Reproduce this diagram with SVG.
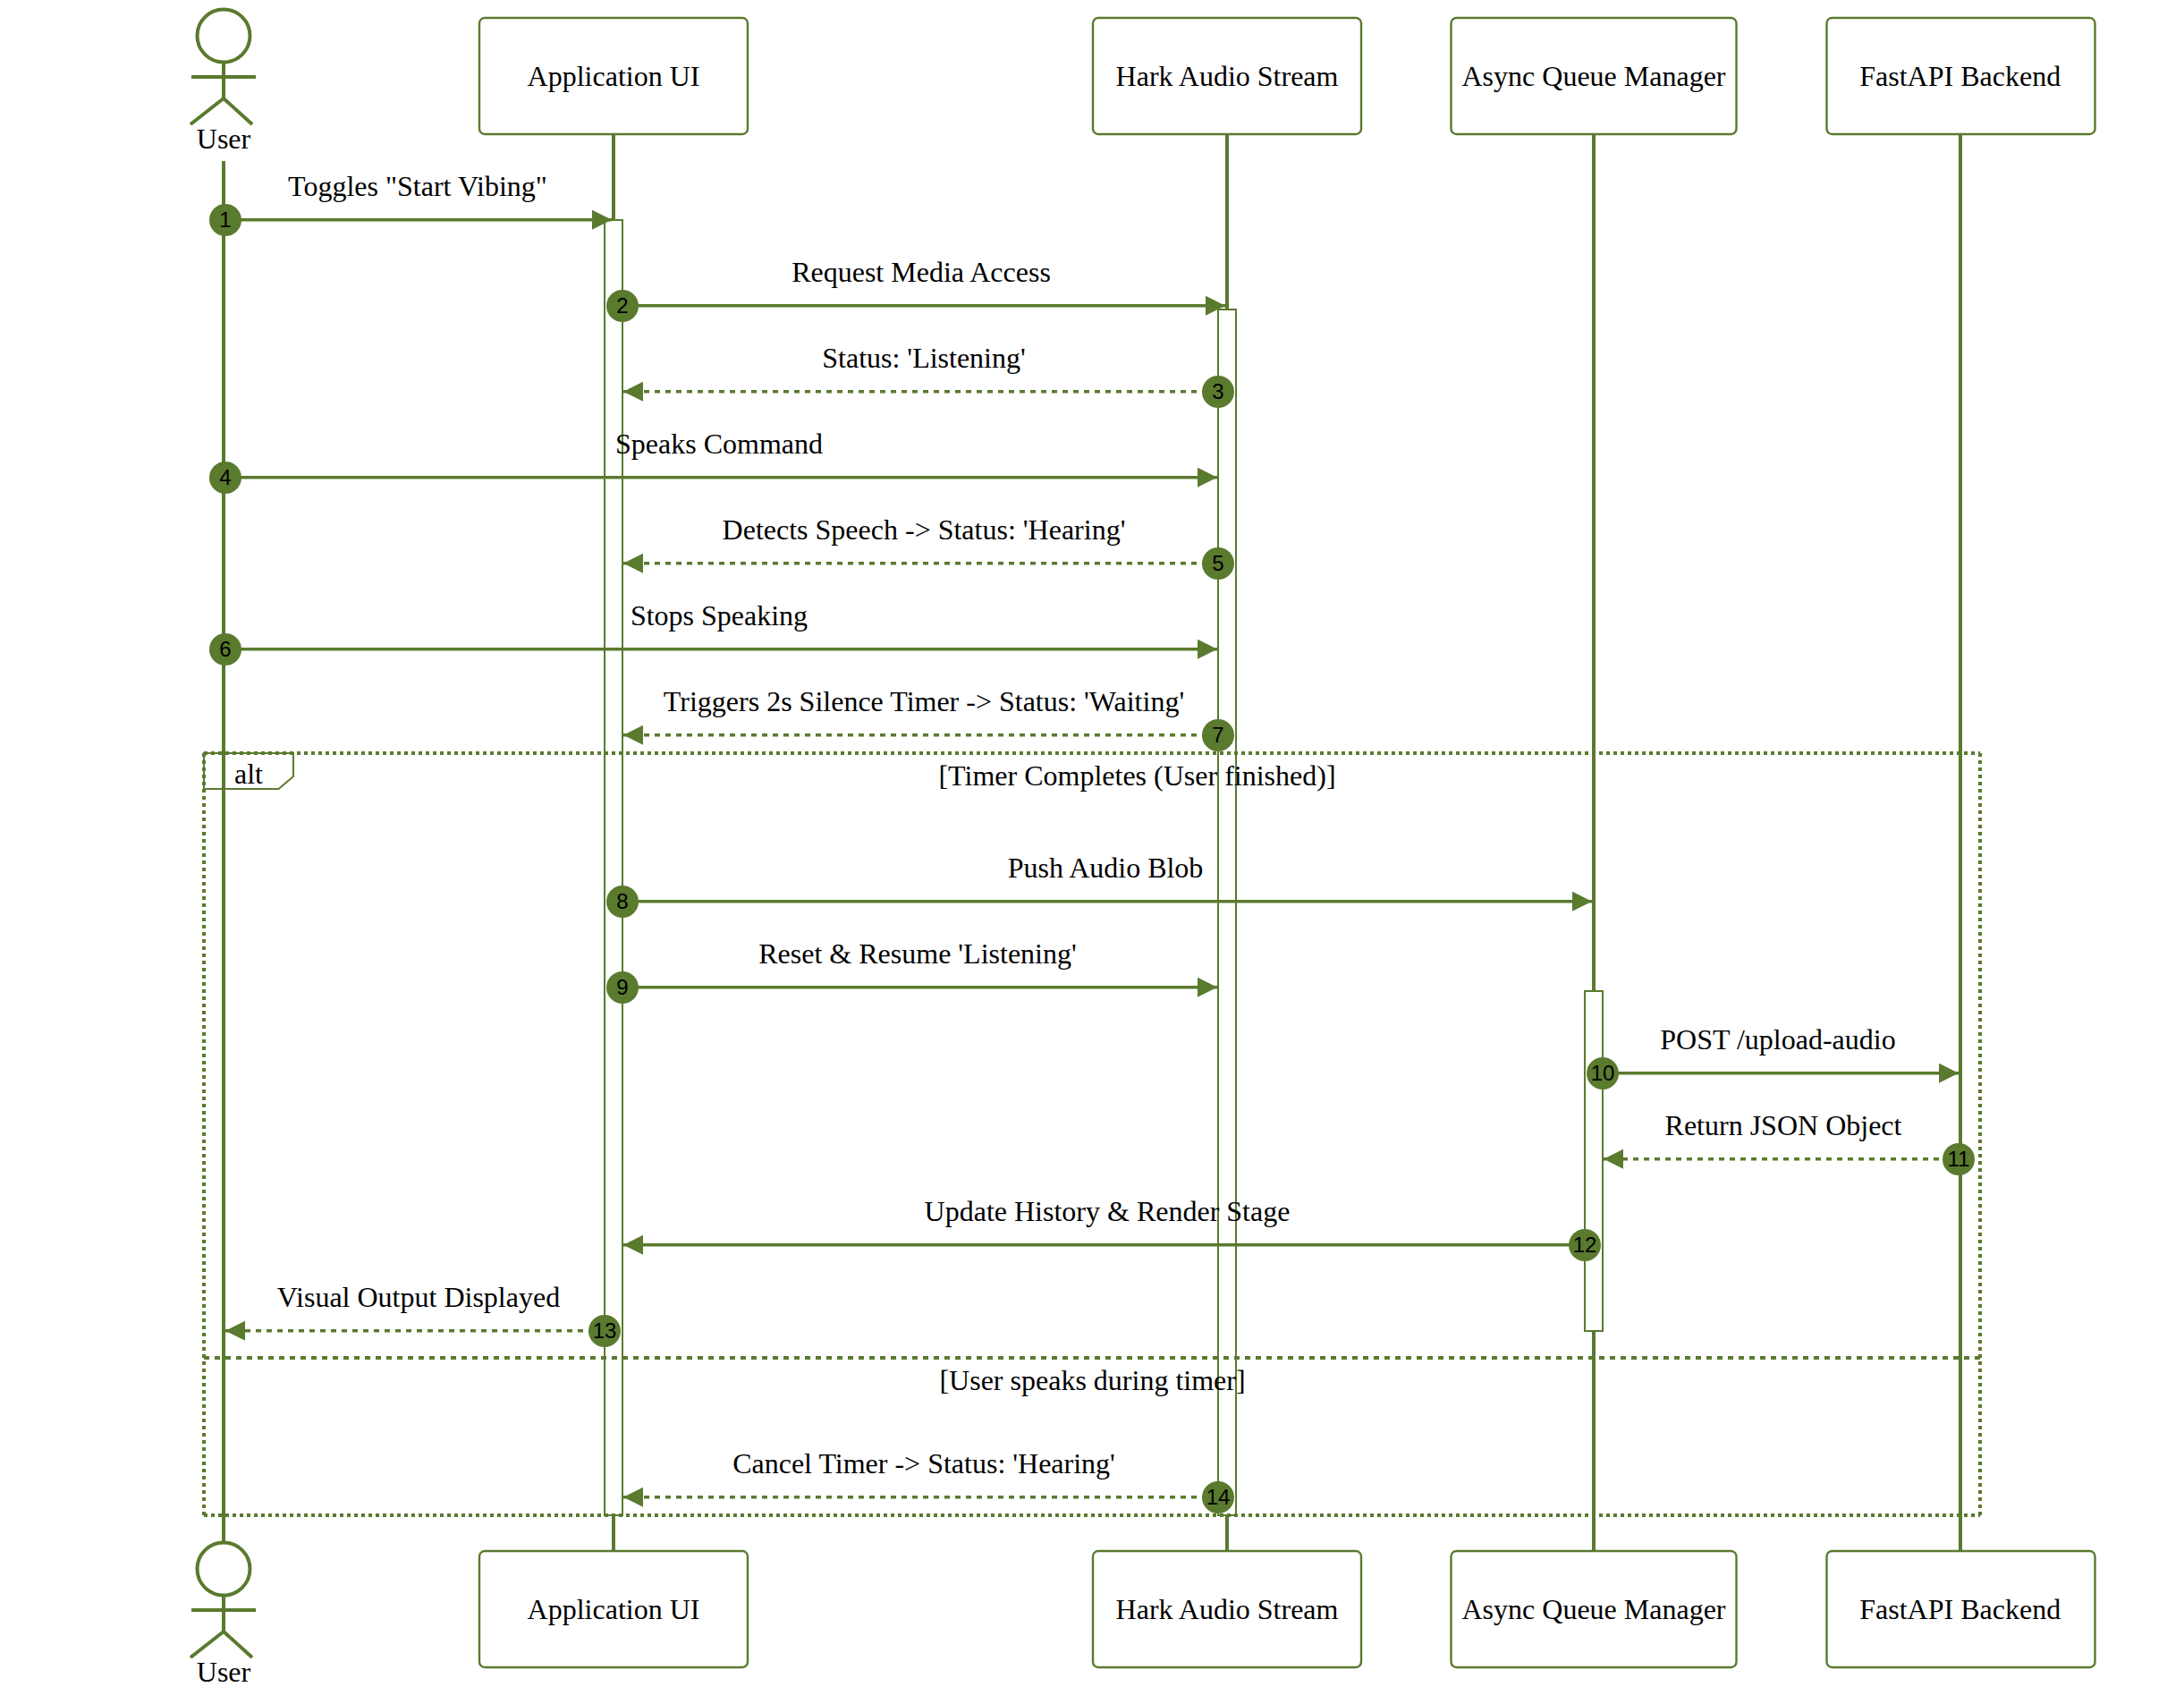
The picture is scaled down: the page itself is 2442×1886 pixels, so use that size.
<svg xmlns="http://www.w3.org/2000/svg" width="2442" height="1886" viewBox="0 0 2442 1886">
<style>
text{font-family:"Liberation Serif","Times New Roman",serif;font-size:32px;fill:#000;text-anchor:middle}
.box{fill:#fff;stroke:#5a7a2e;stroke-width:2.4}
.stick{fill:none;stroke:#5a7a2e;stroke-width:4}
.life{stroke:#5a7a2e;stroke-width:4;fill:none}
.act{fill:#fff;stroke:#5a7a2e;stroke-width:2}
.msg{stroke:#5a7a2e;stroke-width:3.4;fill:none;marker-end:url(#arrow)}
.ret{stroke-dasharray:6 6}
.loop{stroke:#5a7a2e;stroke-width:4;fill:none;stroke-dasharray:4 4}
.div{stroke-dasharray:6 6}
.tab{fill:none;stroke:#5a7a2e;stroke-width:2}
.dot{fill:#5a7a2e}
.num{font-family:"Liberation Sans",Arial,sans-serif;font-size:24px}
</style>
<defs>
<marker id="arrow" markerUnits="userSpaceOnUse" markerWidth="23" markerHeight="23" refX="22" refY="11" orient="auto-start-reverse"><path d="M0,0 L22,11 L0,22 z" fill="#5a7a2e"/></marker>
<g id="stick-figure"><ellipse class="stick" cx="250" cy="40" rx="29.5" ry="29.5"/><path class="stick" d="M250,70V110M214,86H286M250,110L213,139M250,110L282,139"/></g>
</defs>
<g id="connectors-lifelines">
<path class="life" d="M250,180V1723"/>
<path class="life" d="M686,150V1734"/>
<path class="life" d="M1372,150V1734"/>
<path class="life" d="M1782,150V1734"/>
<path class="life" d="M2192,150V1734"/>
</g>
<g id="actor-user-top"><use href="#stick-figure"/><text x="250" y="165.5">User</text></g>
<g id="actor-ui-top"><rect class="box" x="536" y="20" width="300" height="130" rx="6"/><text x="686" y="96">Application UI</text></g>
<g id="actor-hark-top"><rect class="box" x="1222" y="20" width="300" height="130" rx="6"/><text x="1372" y="96">Hark Audio Stream</text></g>
<g id="actor-queue-top"><rect class="box" x="1622.5" y="20" width="319" height="130" rx="6"/><text x="1782" y="96">Async Queue Manager</text></g>
<g id="actor-api-top"><rect class="box" x="2042.5" y="20" width="300" height="130" rx="6"/><text x="2191.7" y="96">FastAPI Backend</text></g>
<g id="actor-user-bottom"><use href="#stick-figure" y="1714"/><text x="250" y="1879.5">User</text></g>
<g id="actor-ui-bottom"><rect class="box" x="536" y="1734" width="300" height="130" rx="6"/><text x="686" y="1810">Application UI</text></g>
<g id="actor-hark-bottom"><rect class="box" x="1222" y="1734" width="300" height="130" rx="6"/><text x="1372" y="1810">Hark Audio Stream</text></g>
<g id="actor-queue-bottom"><rect class="box" x="1622.5" y="1734" width="319" height="130" rx="6"/><text x="1782" y="1810">Async Queue Manager</text></g>
<g id="actor-api-bottom"><rect class="box" x="2042.5" y="1734" width="300" height="130" rx="6"/><text x="2191.7" y="1810">FastAPI Backend</text></g>
<g id="activations">
<rect class="act" x="676" y="246" width="20" height="1448"/>
<rect class="act" x="1362" y="346" width="20" height="1348"/>
<rect class="act" x="1772" y="1108" width="20" height="380"/>
</g>
<g id="alt-frame">
<path class="tab" d="M228,842H328V868L311.5,882H228z"/>
<path class="loop" d="M228,842H2214M2214,842V1694M228,1694H2214M228,842V1694"/>
<path class="loop div" d="M228,1518H2214"/>
<text x="278" y="875.5">alt</text>
<text x="1271.5" y="878">[Timer Completes (User finished)]</text>
<text x="1221.5" y="1553.7">[User speaks during timer]</text>
</g>
<g id="connectors-messages">
<path class="msg" d="M250,245.7H684"/>
<path class="msg" d="M696,341.7H1370"/>
<path class="msg ret" d="M1362,437.7H697"/>
<path class="msg" d="M250,533.7H1361"/>
<path class="msg ret" d="M1362,629.7H697"/>
<path class="msg" d="M250,725.7H1361"/>
<path class="msg ret" d="M1362,821.7H697"/>
<path class="msg" d="M696,1007.7H1780"/>
<path class="msg" d="M696,1103.7H1361"/>
<path class="msg" d="M1792,1199.7H2190"/>
<path class="msg ret" d="M2192,1295.7H1793"/>
<path class="msg" d="M1772,1391.7H697"/>
<path class="msg ret" d="M676,1487.7H252"/>
<path class="msg ret" d="M1362,1673.7H697"/>
</g>
<g id="message-labels">
<text x="467" y="218.7">Toggles "Start Vibing"</text>
<text x="1030" y="314.7">Request Media Access</text>
<text x="1033" y="410.7">Status: 'Listening'</text>
<text x="804" y="506.7">Speaks Command</text>
<text x="1033" y="602.7">Detects Speech -&gt; Status: 'Hearing'</text>
<text x="804" y="698.7">Stops Speaking</text>
<text x="1033" y="794.7">Triggers 2s Silence Timer -&gt; Status: 'Waiting'</text>
<text x="1236" y="980.7">Push Audio Blob</text>
<text x="1026" y="1076.7">Reset &amp; Resume 'Listening'</text>
<text x="1988" y="1172.7">POST /upload-audio</text>
<text x="1994" y="1268.7">Return JSON Object</text>
<text x="1238" y="1364.7">Update History &amp; Render Stage</text>
<text x="468" y="1460.7">Visual Output Displayed</text>
<text x="1033" y="1646.7">Cancel Timer -&gt; Status: 'Hearing'</text>
</g>
<g id="sequence-numbers">
<circle class="dot" cx="252" cy="246" r="18"/><text class="num" x="252" y="254">1</text>
<circle class="dot" cx="696" cy="342" r="18"/><text class="num" x="696" y="350">2</text>
<circle class="dot" cx="1362" cy="438" r="18"/><text class="num" x="1362" y="446">3</text>
<circle class="dot" cx="252" cy="534" r="18"/><text class="num" x="252" y="542">4</text>
<circle class="dot" cx="1362" cy="630" r="18"/><text class="num" x="1362" y="638">5</text>
<circle class="dot" cx="252" cy="726" r="18"/><text class="num" x="252" y="734">6</text>
<circle class="dot" cx="1362" cy="822" r="18"/><text class="num" x="1362" y="830">7</text>
<circle class="dot" cx="696" cy="1008" r="18"/><text class="num" x="696" y="1016">8</text>
<circle class="dot" cx="696" cy="1104" r="18"/><text class="num" x="696" y="1112">9</text>
<circle class="dot" cx="1792" cy="1200" r="18"/><text class="num" x="1792" y="1208">10</text>
<circle class="dot" cx="2190" cy="1296" r="18"/><text class="num" x="2190" y="1304">11</text>
<circle class="dot" cx="1772" cy="1392" r="18"/><text class="num" x="1772" y="1400">12</text>
<circle class="dot" cx="676" cy="1488" r="18"/><text class="num" x="676" y="1496">13</text>
<circle class="dot" cx="1362" cy="1674" r="18"/><text class="num" x="1362" y="1682">14</text>
</g>
</svg>
